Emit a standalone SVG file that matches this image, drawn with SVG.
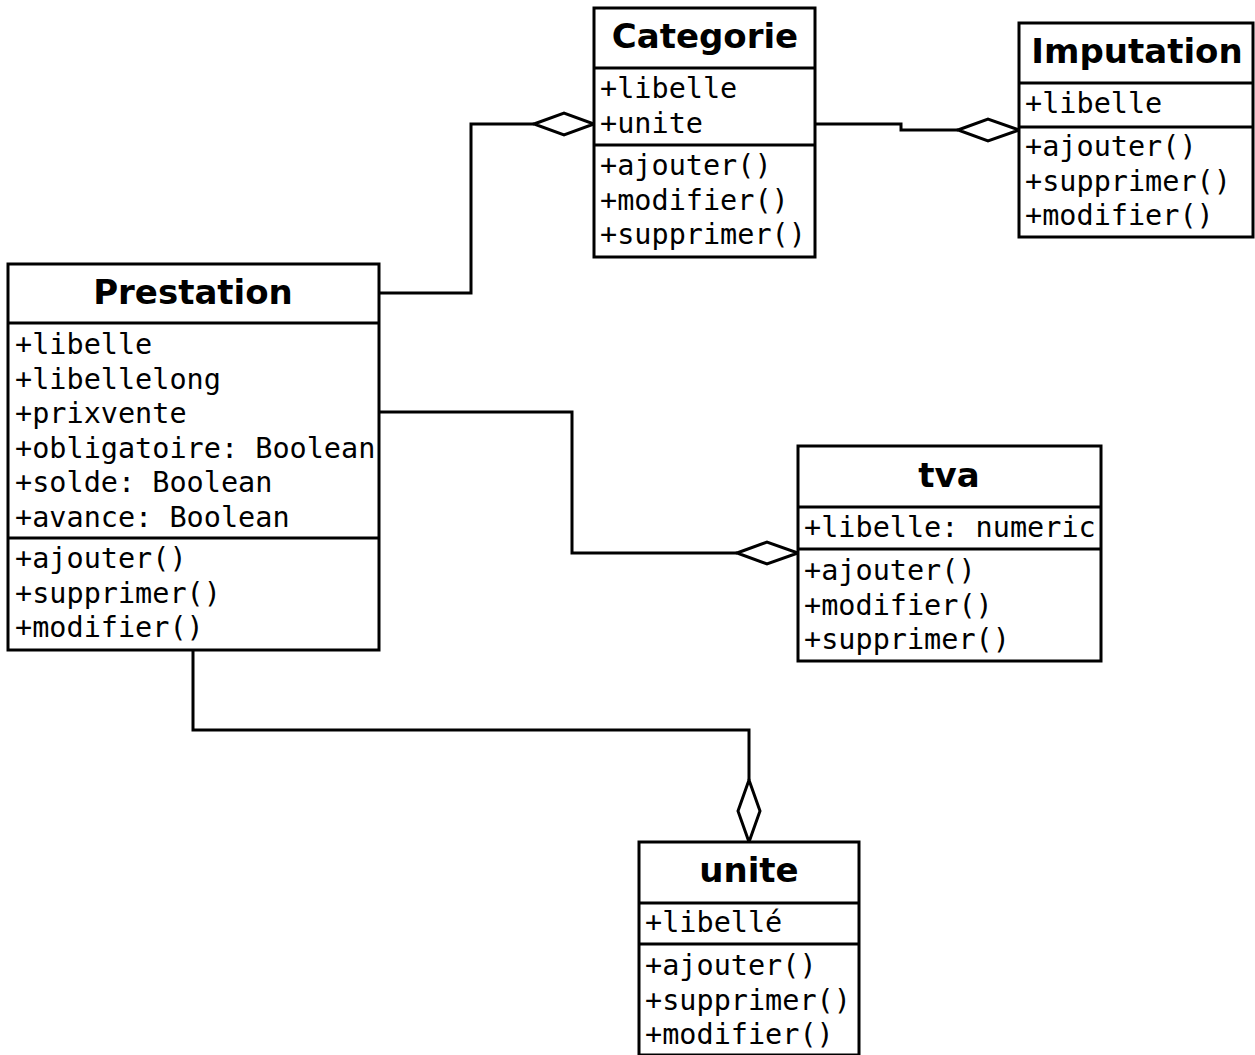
<svg xmlns="http://www.w3.org/2000/svg" width="1255" height="1055" viewBox="0 0 1255 1055">
<style>
.box{fill:#fff;stroke:#000;stroke-width:3}
.sep{stroke:#000;stroke-width:3}
.title{font-family:"DejaVu Sans",sans-serif;font-weight:bold;font-size:34px;text-anchor:middle;fill:#000}
.m{font-family:"DejaVu Sans Mono",monospace;font-size:28.5px;fill:#000}
.conn{fill:none;stroke:#000;stroke-width:3}
.dia{fill:#fff;stroke:#000;stroke-width:3}
</style>
<rect width="1255" height="1055" fill="#fff"/>
<g id="connectors">
<polyline class="conn" points="379,293 471,293 471,124 534,124"/>
<polygon class="dia" points="534,124 564,113 594,124 564,135"/>
<polyline class="conn" points="815,124 901,124 901,130 958,130"/>
<polygon class="dia" points="958,130 988,119 1019,130 988,141"/>
<polyline class="conn" points="379,412 572,412 572,553 737,553"/>
<polygon class="dia" points="737,553 767,542 798,553 767,564"/>
<polyline class="conn" points="193,650 193,730 749,730 749,780"/>
<polygon class="dia" points="749,780 760,811 749,842 738,811"/>
</g>
<g id="Prestation">
<rect class="box" x="8" y="264" width="371" height="386"/>
<line class="sep" x1="8" y1="323" x2="379" y2="323"/>
<line class="sep" x1="8" y1="538" x2="379" y2="538"/>
<text class="title" x="193" y="304">Prestation</text>
<text class="m" x="15" y="354">+libelle</text>
<text class="m" x="15" y="388.5">+libellelong</text>
<text class="m" x="15" y="423">+prixvente</text>
<text class="m" x="15" y="457.5">+obligatoire: Boolean</text>
<text class="m" x="15" y="492">+solde: Boolean</text>
<text class="m" x="15" y="526.5">+avance: Boolean</text>
<text class="m" x="15" y="568">+ajouter()</text>
<text class="m" x="15" y="602.5">+supprimer()</text>
<text class="m" x="15" y="637">+modifier()</text>
</g>
<g id="Categorie">
<rect class="box" x="594" y="8" width="221" height="249"/>
<line class="sep" x1="594" y1="68" x2="815" y2="68"/>
<line class="sep" x1="594" y1="145" x2="815" y2="145"/>
<text class="title" x="705" y="48">Categorie</text>
<text class="m" x="600" y="98">+libelle</text>
<text class="m" x="600" y="132.5">+unite</text>
<text class="m" x="600" y="175">+ajouter()</text>
<text class="m" x="600" y="209.5">+modifier()</text>
<text class="m" x="600" y="244">+supprimer()</text>
</g>
<g id="Imputation">
<rect class="box" x="1019" y="23" width="234" height="214"/>
<line class="sep" x1="1019" y1="83" x2="1253" y2="83"/>
<line class="sep" x1="1019" y1="127" x2="1253" y2="127"/>
<text class="title" x="1137" y="63">Imputation</text>
<text class="m" x="1025" y="113">+libelle</text>
<text class="m" x="1025" y="156">+ajouter()</text>
<text class="m" x="1025" y="190.5">+supprimer()</text>
<text class="m" x="1025" y="225">+modifier()</text>
</g>
<g id="tva">
<rect class="box" x="798" y="446" width="303" height="215"/>
<line class="sep" x1="798" y1="507" x2="1101" y2="507"/>
<line class="sep" x1="798" y1="549" x2="1101" y2="549"/>
<text class="title" x="949" y="487">tva</text>
<text class="m" x="804" y="537">+libelle: numeric</text>
<text class="m" x="804" y="580">+ajouter()</text>
<text class="m" x="804" y="614.5">+modifier()</text>
<text class="m" x="804" y="649">+supprimer()</text>
</g>
<g id="unite">
<rect class="box" x="639" y="842" width="220" height="213"/>
<line class="sep" x1="639" y1="903" x2="859" y2="903"/>
<line class="sep" x1="639" y1="944" x2="859" y2="944"/>
<text class="title" x="749" y="882">unite</text>
<text class="m" x="645" y="932">+libellé</text>
<text class="m" x="645" y="975">+ajouter()</text>
<text class="m" x="645" y="1009.5">+supprimer()</text>
<text class="m" x="645" y="1044">+modifier()</text>
</g>
</svg>
